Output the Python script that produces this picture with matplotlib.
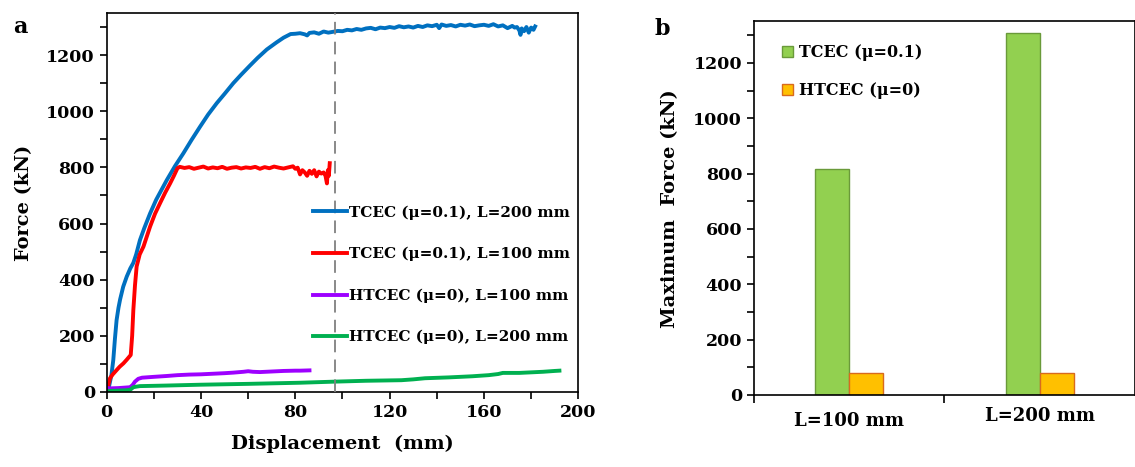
import numpy as np
import matplotlib
matplotlib.use("Agg")
import matplotlib.pyplot as plt
from matplotlib.ticker import MultipleLocator
from matplotlib.transforms import ScaledTranslation

plt.rcParams['font.family'] = ['DejaVu Serif']
plt.rcParams['font.weight'] = 'bold'

# ---- panel a: force-displacement curves ----
blue_x = [0, 1, 2, 2.8, 3.5, 4.2, 5, 5.7, 7, 8.5, 10, 11.3, 12.5, 14.1, 16, 18.4, 21, 25.5, 29,
          32.5, 36, 39.6, 43, 46.7, 50, 53.7, 57, 60.8, 64, 67.9, 72, 75, 78,
          80, 82, 84, 85, 86, 88, 90, 92, 94, 96, 98, 100, 102, 104, 106, 108, 110, 112, 114,
          116, 118, 120, 122, 124, 126, 128, 130, 132, 134, 136, 138, 140, 141, 142, 144, 146,
          148, 150, 152, 154, 156, 158, 160, 162, 164, 166, 168, 170, 172, 173, 174, 175, 175.5,
          176, 177, 178, 179, 180, 181, 181.7]
blue_y = [0, 20, 60, 114, 190, 256, 300, 330, 375, 411, 440, 460, 490, 541, 585, 636, 685, 755, 805,
          850, 898, 945, 988, 1029, 1062, 1100, 1130, 1163, 1190, 1220, 1245, 1262, 1275,
          1276, 1278, 1274, 1270, 1279, 1281, 1276, 1284, 1280, 1283, 1286, 1285, 1290, 1288, 1293, 1290, 1295, 1297, 1292,
          1298, 1296, 1300, 1297, 1303, 1299, 1302, 1298, 1304, 1300, 1306, 1303, 1308, 1296, 1309, 1304, 1307,
          1302, 1308, 1305, 1309, 1303, 1306, 1308, 1304, 1310, 1302, 1306, 1296, 1304, 1298, 1300, 1288, 1272,
          1295, 1285, 1300, 1280, 1298, 1290, 1302]

red_x = [0, 0.7, 1.4, 2.5, 4.2, 5.5, 7.1, 8.5, 10.2, 10.8, 11.3, 12, 12.7, 14, 15.6, 18.4, 20.5, 22.6,
         24.8, 26.9, 28.5, 30, 31, 33, 35, 37, 39, 41, 43, 45, 47, 49, 51, 53, 55, 57, 59, 61, 63,
         65, 67, 69, 71, 73, 75, 77, 79, 80, 81, 82, 83, 84, 85, 86, 87, 88, 89, 90, 91, 92, 92.8,
         93.4, 93.8, 94.2, 94.6]
red_y = [10, 25, 49, 62, 78, 90, 102, 115, 132, 200, 292, 380, 447, 490, 518, 589, 635, 672,
         710, 743, 770, 797, 802, 798, 801, 795, 799, 803, 796, 800, 797, 802, 795, 799, 801, 796, 800, 798, 802,
         795, 801, 797, 803, 799, 796, 800, 804, 795, 799, 775, 790, 782, 770, 788, 777, 790, 768, 785, 778, 782, 770,
         743, 790, 770, 815]

purple_x = [0, 1.4, 5, 9.9, 11, 12, 13.4, 15, 20, 25.4, 30, 35, 40, 45, 50, 53.7, 58, 60, 62, 65,
            70, 75, 80, 82, 86]
purple_y = [15, 13, 14, 17, 25, 37, 47, 51, 54, 57, 60, 62, 63, 65, 67, 69, 72, 74, 72, 71,
            73, 75, 76, 76, 77]

green_x = [0, 2, 5, 8, 10, 11.3, 12.5, 14.1, 20, 25.4, 40, 60, 82, 97, 110, 125, 130, 135, 145,
           155, 162, 166, 168, 175, 180, 185, 190, 192]
green_y = [3, 4, 5, 6, 8, 17, 19, 21, 22, 23, 26, 29, 33, 37, 40, 42, 45, 49, 52,
           56, 60, 64, 68, 68, 70, 72, 75, 76]

curve_labels = ['TCEC (\u03bc=0.1), L=200 mm', 'TCEC (\u03bc=0.1), L=100 mm',
                'HTCEC (\u03bc=0), L=100 mm', 'HTCEC (\u03bc=0), L=200 mm']
dash_x = 97

# ---- panel b: maximum force ----
groups = ['L=100 mm', 'L=200 mm']
tcec_max = [816, 1309]
htcec_max = [79, 78]

fig = plt.figure(figsize=(11.35, 4.67), dpi=100)

ax = fig.add_axes([0.094, 0.1606, 0.4155, 0.8116])
ax.plot(blue_x, blue_y, color='#0070C0', lw=2.8, label=curve_labels[0])
ax.plot(red_x, red_y, color='#FF0000', lw=2.8, label=curve_labels[1])
ax.plot(purple_x, purple_y, color='#9D00FF', lw=2.8, label=curve_labels[2])
ax.plot(green_x, green_y, color='#00B050', lw=2.8, label=curve_labels[3])
ax.axvline(dash_x, color='#808080', lw=1.3, ls=(0, (7, 4)), zorder=5)
ax.set_xlim(0, 200)
ax.set_ylim(0, 1350)
ax.xaxis.set_major_locator(MultipleLocator(40))
ax.xaxis.set_minor_locator(MultipleLocator(20))
ax.yaxis.set_major_locator(MultipleLocator(200))
ax.yaxis.set_minor_locator(MultipleLocator(100))
ax.tick_params(which='both', direction='out', length=5, width=1.2, labelsize=12.5)
ax.set_xlabel('Displacement  (mm)', fontsize=14, fontweight='bold', labelpad=10)
ax.set_ylabel('Force (kN)', fontsize=14, fontweight='bold', labelpad=9)
for s in ax.spines.values():
    s.set_linewidth(1.2)
ax.legend(loc='center left', bbox_to_anchor=(0.4375, 0.309), frameon=False,
          fontsize=11, handlelength=2.2, handletextpad=0.15, labelspacing=1.78,
          borderpad=0, borderaxespad=0)
fig.text(0.012, 0.965, 'a', fontsize=16, fontweight='bold', va='top')

bx = fig.add_axes([0.6643, 0.1542, 0.3357, 0.7998])
pos = np.arange(len(groups))
w = 0.178
bx.bar(pos - w / 2, tcec_max, w, color='#92D050', edgecolor='#6A9A3A', lw=1, label='TCEC (\u03bc=0.1)')
bx.bar(pos + w / 2, htcec_max, w, color='#FFC000', edgecolor='#D86A1E', lw=1, label='HTCEC (\u03bc=0)')
bx.set_xlim(-0.5, 1.5)
bx.set_ylim(0, 1350)
bx.set_xticks(pos)
bx.set_xticklabels(groups)
bx.set_xticks([-0.5, 0.5], minor=True)
bx.tick_params(axis='x', which='major', length=0, pad=12, labelsize=13)
bx.tick_params(axis='x', which='minor', direction='out', length=6, width=1.2)
bx.yaxis.set_major_locator(MultipleLocator(200))
bx.yaxis.set_minor_locator(MultipleLocator(100))
bx.tick_params(axis='y', which='both', direction='out', length=5, width=1.2, labelsize=12.5)
bx.set_ylabel('Maximum  Force (kN)', fontsize=14, fontweight='bold', labelpad=10)
for s in bx.spines.values():
    s.set_linewidth(1.2)
# the second category label sits a little higher in the original
lab = bx.get_xticklabels()[1]
lab.set_transform(lab.get_transform() + ScaledTranslation(0, 5 / 100, fig.dpi_scale_trans))
bx.legend(loc='center left', bbox_to_anchor=(0.073, 0.866), frameon=False,
          fontsize=11.5, handlelength=0.7, handleheight=0.7, handletextpad=0.4,
          labelspacing=1.3, borderpad=0, borderaxespad=0)
fig.text(0.577, 0.962, 'b', fontsize=16, fontweight='bold', va='top')

fig.savefig('out.png', dpi=100)
